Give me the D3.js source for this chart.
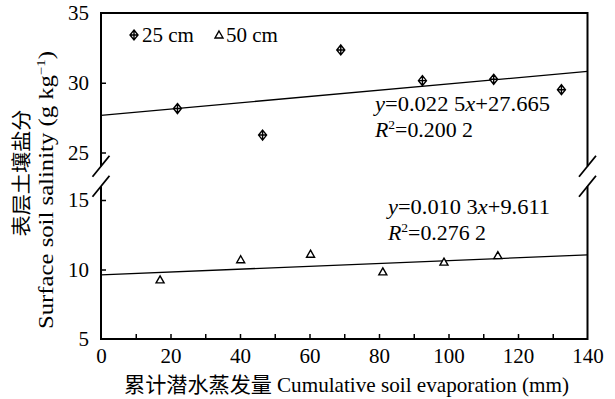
<!DOCTYPE html>
<html>
<head>
<meta charset="utf-8">
<script src="https://cdn.jsdelivr.net/npm/d3@7"></script>
<style>
  body { margin: 0; background: #fff; }
  svg text { font-family: "Liberation Serif", "Times New Roman", serif; fill: #000; }
  .cjk { font-family: "Noto Sans CJK SC", sans-serif; }
</style>
</head>
<body>
<div id="graph-container"></div>
<script>
const depth25X = [22, 46.5, 69, 92.5, 113, 132.5];
const depth25Y = [28.15, 26.25, 32.35, 30.15, 30.25, 29.5];
const depth50X = [17, 40.2, 60.3, 81.1, 98.7, 114.2];
const depth50Y = [9.25, 10.7, 11.1, 9.83, 10.53, 11.0];

// fitted lines, as printed on the chart
const fit25 = { slope: 0.0225, intercept: 27.665 };
const fit50 = { slope: 0.0103, intercept: 9.611 };

const xTicks = [0, 20, 40, 60, 80, 100, 120, 140];
const xMinorTicks = [10, 30, 50, 70, 90, 110, 130];
const yTopTicks = [25, 30, 35];
const yBotTicks = [5, 10, 15];
const legendLabels = ['25 cm', '50 cm'];

const width = 615, height = 399;

const xScale = d3.scaleLinear().domain([0, 140]).range([101, 587.5]);
const yTop = d3.scaleLinear().domain([25, 35]).range([152.5, 13]);
const yBot = d3.scaleLinear().domain([5, 15]).range([339, 200]);

const svg = d3.select('#graph-container')
  .append('svg')
  .attr('width', width)
  .attr('height', height);

const plotLeft = xScale(0), plotRight = xScale(140);
const plotTop = yTop(35), plotBottom = yBot(5);
const mid = (yTop(25) + yBot(15)) / 2;

// frame with the y break
const frame = svg.append('g')
  .attr('stroke', '#000')
  .attr('stroke-width', 2)
  .attr('fill', 'none');

frame.append('path')
  .attr('d', `M${plotLeft},${mid - 10}V${plotTop}H${plotRight}V${mid - 10}`);
frame.append('path')
  .attr('d', `M${plotLeft},${mid + 10}V${plotBottom}H${plotRight}V${mid + 10}`);

[plotLeft, plotRight].forEach(x0 => {
  [mid - 10, mid + 10].forEach(y0 => {
    frame.append('line')
      .attr('x1', x0 - 8.5).attr('y1', y0 + 10.5)
      .attr('x2', x0 + 8.5).attr('y2', y0 - 10.5)
      .attr('stroke-width', 1.8);
  });
});

// axes
const xAxis = d3.axisBottom(xScale)
  .tickValues(xTicks)
  .tickSizeInner(-5)
  .tickSizeOuter(0)
  .tickPadding(9);

const gx = svg.append('g')
  .attr('transform', `translate(0,${plotBottom})`)
  .call(xAxis);

gx.selectAll('.tick')
  .filter(d => d === 0 || d === 140)
  .select('line').remove();

svg.append('g')
  .attr('transform', `translate(0,${plotBottom})`)
  .call(d3.axisBottom(xScale).tickValues(xMinorTicks).tickSizeInner(-5).tickSizeOuter(0).tickFormat(''))
  .call(g => g.select('.domain').remove())
  .selectAll('.tick line').attr('stroke', '#000').attr('stroke-width', 1.5);

const gyTop = svg.append('g')
  .attr('transform', `translate(${plotLeft},0)`)
  .call(d3.axisLeft(yTop).tickValues(yTopTicks).tickSizeInner(-5).tickSizeOuter(0).tickPadding(12));

const gyBot = svg.append('g')
  .attr('transform', `translate(${plotLeft},0)`)
  .call(d3.axisLeft(yBot).tickValues(yBotTicks).tickSizeInner(-5).tickSizeOuter(0).tickPadding(12));

[gx, gyTop, gyBot].forEach(g => {
  g.select('.domain').remove();
  g.selectAll('.tick line').attr('stroke', '#000').attr('stroke-width', 1.5);
  g.selectAll('.tick text')
    .attr('font-size', 21)
    .attr('font-family', '"Liberation Serif", serif')
    .attr('fill', '#000');
});
gyTop.selectAll('.tick').filter(d => d === 35).select('line').remove();
gyBot.selectAll('.tick').filter(d => d === 5).select('line').remove();

// regression lines
const line = d3.line();
svg.append('path')
  .attr('d', line([0, 140].map(x => [xScale(x), yTop(fit25.intercept + fit25.slope * x)])))
  .attr('stroke', '#000')
  .attr('stroke-width', 1.3)
  .attr('fill', 'none');

svg.append('path')
  .attr('d', line([0, 140].map(x => [xScale(x), yBot(fit50.intercept + fit50.slope * x)])))
  .attr('stroke', '#000')
  .attr('stroke-width', 1.3)
  .attr('fill', 'none');

// markers
const diamond = 'M0,-5L4,0L0,5L-4,0Z M-4,0H4 M0,-5V5';
const triangle = 'M0,-4L4,3H-4Z';

svg.append('g').selectAll('path')
  .data(depth25X)
  .join('path')
  .attr('transform', (d, i) => `translate(${xScale(d)},${yTop(depth25Y[i])})`)
  .attr('d', diamond)
  .attr('fill', '#fff')
  .attr('stroke', '#000')
  .attr('stroke-width', 1.4);

svg.append('g').selectAll('path')
  .data(depth50X)
  .join('path')
  .attr('transform', (d, i) => `translate(${xScale(d)},${yBot(depth50Y[i])})`)
  .attr('d', triangle)
  .attr('fill', '#fff')
  .attr('stroke', '#000')
  .attr('stroke-width', 1.4);

// legend
const legend = svg.append('g');
legend.append('path')
  .attr('transform', 'translate(134,35)')
  .attr('d', diamond)
  .attr('fill', '#fff').attr('stroke', '#000').attr('stroke-width', 1.4);
legend.append('text')
  .attr('x', 142).attr('y', 42)
  .attr('font-size', 21)
  .text(legendLabels[0]);
legend.append('path')
  .attr('transform', 'translate(219,35)')
  .attr('d', triangle)
  .attr('fill', '#fff').attr('stroke', '#000').attr('stroke-width', 1.4);
legend.append('text')
  .attr('x', 226).attr('y', 42)
  .attr('font-size', 21)
  .text(legendLabels[1]);

// equations
function equation(x, y, slopeTxt, interceptTxt, r2Txt, len1, len2) {
  const t1 = svg.append('text').attr('x', x).attr('y', y).attr('font-size', 21)
    .attr('textLength', len1).attr('lengthAdjust', 'spacingAndGlyphs');
  t1.append('tspan').attr('font-style', 'italic').text('y');
  t1.append('tspan').text('=' + slopeTxt);
  t1.append('tspan').attr('font-style', 'italic').text('x');
  t1.append('tspan').text('+' + interceptTxt);

  const t2 = svg.append('text').attr('x', x).attr('y', y + 26).attr('font-size', 21)
    .attr('textLength', len2).attr('lengthAdjust', 'spacingAndGlyphs');
  t2.append('tspan').attr('font-style', 'italic').text('R');
  t2.append('tspan').attr('font-size', 13).attr('dy', -8).text('2');
  t2.append('tspan').attr('dy', 8).text('=' + r2Txt);
}
equation(375, 111, '0.022 5', '27.665', '0.200 2', 175, 98);
equation(388, 214, '0.010 3', '9.611', '0.276 2', 162, 98);

// axis titles
svg.append('text')
  .attr('x', 124).attr('y', 392)
  .attr('class', 'cjk')
  .attr('font-size', 21)
  .attr('textLength', 148)
  .attr('lengthAdjust', 'spacingAndGlyphs')
  .text('累计潜水蒸发量');
svg.append('text')
  .attr('x', 277).attr('y', 392)
  .attr('font-size', 21)
  .attr('textLength', 292)
  .attr('lengthAdjust', 'spacingAndGlyphs')
  .text('Cumulative soil evaporation (mm)');

svg.append('text')
  .attr('transform', 'translate(20,173) rotate(-90)')
  .attr('class', 'cjk')
  .attr('text-anchor', 'middle')
  .attr('dominant-baseline', 'central')
  .attr('font-size', 20)
  .attr('textLength', 127)
  .attr('lengthAdjust', 'spacingAndGlyphs')
  .text('表层土壤盐分');

const yt = svg.append('text')
  .attr('transform', 'translate(53,190) rotate(-90)')
  .attr('text-anchor', 'middle')
  .attr('font-size', 20)
  .attr('textLength', 278)
  .attr('lengthAdjust', 'spacingAndGlyphs');
yt.append('tspan').text('Surface soil salinity (g kg');
yt.append('tspan').attr('font-size', 12).attr('dy', -8).text('−1');
yt.append('tspan').attr('dy', 8).text(')');
</script>
</body>
</html>
